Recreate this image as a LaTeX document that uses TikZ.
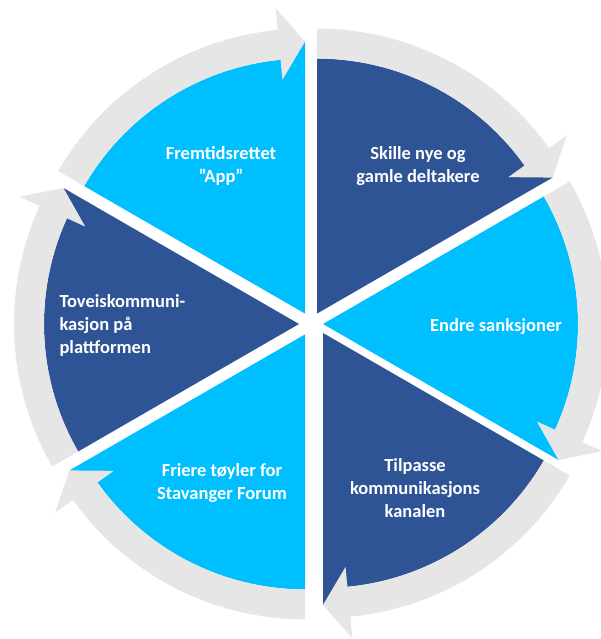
\documentclass[tikz,border=0pt]{standalone}
\usepackage{fontspec}
\setmainfont{Carlito}
\usetikzlibrary{calc}
\definecolor{lclight}{RGB}{0,191,255}
\definecolor{lcdark}{RGB}{47,84,150}
\definecolor{lcrim}{RGB}{231,230,230}

\begin{document}
\begin{tikzpicture}[x=1pt, y=1pt]
% -------------------------------------------------
% Segment and rim styles
\tikzset{
  lightseg/.style={fill=lclight},
  darkseg/.style={fill=lcdark},
  rim/.style={fill=lcrim},
  txt/.style={text=white, align=center,
    font={\bfseries\fontsize{18.5}{23}\selectfont}}
}
\useasboundingbox (0,0) rectangle (601,639);
% -------------------------------------------------
% Apex of each segment, every one pushed a little out from the middle
\coordinate (a1) at (305,325.4);
\coordinate (a2) at (317,325.4);
\coordinate (a3) at (323,315);
\coordinate (a4) at (323,306);
\coordinate (a5) at (305,304.6);
\coordinate (a6) at (299,315);

% -------------------------------------------------
% The six pie segments; each one runs out to the tip of its arrow
\fill[lightseg] (a1) -- ($(a1)+(150:255)$) arc[start angle=150, end angle=95.5, radius=255]
  -- ($(a1)+(90:272)$) -- cycle;
\fill[darkseg] (a2) -- ($(a2)+(90:255)$) arc[start angle=90, end angle=35.5, radius=255]
  -- ($(a2)+(30:272)$) -- cycle;
\fill[lightseg] (a3) -- ($(a3)+(30:255)$) arc[start angle=30, end angle=-24.5, radius=255]
  -- ($(a3)+(-30:272)$) -- cycle;
\fill[darkseg] (a4) -- ($(a4)+(-30:255)$) arc[start angle=-30, end angle=-84.5, radius=255]
  -- ($(a4)+(-90:272)$) -- cycle;
\fill[lightseg] (a5) -- ($(a5)+(-90:255)$) arc[start angle=-90, end angle=-144.5, radius=255]
  -- ($(a5)+(-150:272)$) -- cycle;
\fill[darkseg] (a6) -- ($(a6)+(210:255)$) arc[start angle=210, end angle=155.5, radius=255]
  -- ($(a6)+(150:272)$) -- cycle;

% -------------------------------------------------
% The rim: one clockwise arrow round each segment
\fill[rim] ($(a1)+(150:255)$) arc[start angle=150, end angle=95.5, radius=255]
  -- ($(a1)+(95.5:235)$) -- ($(a1)+(90:272)$) -- ($(a1)+(95.5:307)$)
  -- ($(a1)+(95.5:285)$) arc[start angle=95.5, end angle=150, radius=285] -- cycle;
\fill[rim] ($(a2)+(90:255)$) arc[start angle=90, end angle=35.5, radius=255]
  -- ($(a2)+(35.5:235)$) -- ($(a2)+(30:272)$) -- ($(a2)+(35.5:307)$)
  -- ($(a2)+(35.5:285)$) arc[start angle=35.5, end angle=90, radius=285] -- cycle;
\fill[rim] ($(a3)+(30:255)$) arc[start angle=30, end angle=-24.5, radius=255]
  -- ($(a3)+(-24.5:235)$) -- ($(a3)+(-30:272)$) -- ($(a3)+(-24.5:307)$)
  -- ($(a3)+(-24.5:285)$) arc[start angle=-24.5, end angle=30, radius=285] -- cycle;
\fill[rim] ($(a4)+(-30:255)$) arc[start angle=-30, end angle=-84.5, radius=255]
  -- ($(a4)+(-84.5:235)$) -- ($(a4)+(-90:272)$) -- ($(a4)+(-84.5:307)$)
  -- ($(a4)+(-84.5:285)$) arc[start angle=-84.5, end angle=-30, radius=285] -- cycle;
\fill[rim] ($(a5)+(-90:255)$) arc[start angle=-90, end angle=-144.5, radius=255]
  -- ($(a5)+(-144.5:235)$) -- ($(a5)+(-150:272)$) -- ($(a5)+(-144.5:307)$)
  -- ($(a5)+(-144.5:285)$) arc[start angle=-144.5, end angle=-90, radius=285] -- cycle;
\fill[rim] ($(a6)+(210:255)$) arc[start angle=210, end angle=155.5, radius=255]
  -- ($(a6)+(155.5:235)$) -- ($(a6)+(150:272)$) -- ($(a6)+(155.5:307)$)
  -- ($(a6)+(155.5:285)$) arc[start angle=155.5, end angle=210, radius=285] -- cycle;

% -------------------------------------------------
% Segment texts
\node[txt] (t1) at (221,473) {Fremtidsrettet\\\symbol{34}App\symbol{34}};
\node[txt] (t2) at (418,473) {Skille nye og\\gamle deltakere};
\node[txt] (t3) at (496,312) {Endre sanksjoner};
\node[txt] (t4) at (415,151) {Tilpasse\\kommunikasjons\\kanalen};
\node[txt] (t5) at (222,156) {Friere tøyler for\\Stavanger Forum};
\node[txt, align=left, anchor=west] (t6) at (56,314) {Toveiskommuni-\\kasjon på\\plattformen};
\end{tikzpicture}
\end{document}
